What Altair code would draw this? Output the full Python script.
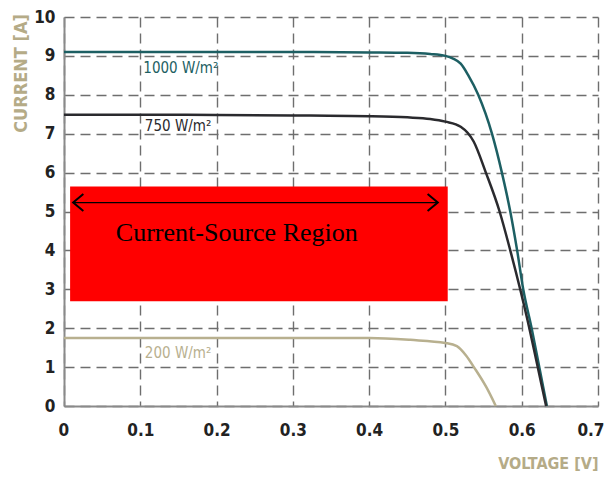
import altair as alt
import pandas as pd

# ---- data ----
v_1000 = [0.0, 0.1, 0.2, 0.3, 0.4, 0.45, 0.48, 0.5, 0.51, 0.52, 0.53, 0.543, 0.561, 0.574, 0.585, 0.594, 0.602, 0.613, 0.623, 0.633]
i_1000 = [9.10, 9.10, 9.10, 9.10, 9.09, 9.08, 9.05, 9.0, 8.93, 8.80, 8.50, 8.0, 7.0, 6.0, 5.0, 4.0, 3.0, 2.0, 1.0, 0.0]

v_750 = [0.0, 0.1, 0.2, 0.3, 0.4, 0.45, 0.48, 0.5, 0.52, 0.537, 0.553, 0.571, 0.585, 0.598, 0.610, 0.621, 0.632]
i_750 = [7.49, 7.49, 7.48, 7.47, 7.45, 7.42, 7.38, 7.31, 7.18, 6.8, 6.0, 5.0, 4.0, 3.0, 2.0, 1.0, 0.0]

v_200 = [0.0, 0.1, 0.2, 0.3, 0.4, 0.454, 0.5, 0.515, 0.527, 0.538, 0.554, 0.566]
i_200 = [1.75, 1.75, 1.75, 1.75, 1.75, 1.70, 1.62, 1.54, 1.30, 0.98, 0.47, 0.0]

series_names = ["1000 W/m²", "750 W/m²", "200 W/m²"]
series_colors = ["#1d5f63", "#2a2a2e", "#b8b08f"]

label_v = [0.104, 0.106, 0.106]
label_i = [8.69, 7.19, 1.36]

region_box = {"x": [0.008], "x2": [0.503], "y": [5.64], "y2": [2.69]}
arrow_y = 5.23
arrow_left = 0.012
arrow_right = 0.490
region_text = "Current-Source Region"
region_text_v = 0.068
region_text_i = 4.24

x_ticks = [0, 0.1, 0.2, 0.3, 0.4, 0.5, 0.6, 0.7]
y_ticks = [0, 1, 2, 3, 4, 5, 6, 7, 8, 9, 10]

# ---- tables ----
rows = []
for name, vs, is_ in zip(series_names, [v_1000, v_750, v_200], [i_1000, i_750, i_200]):
    for v, i in zip(vs, is_):
        rows.append({"series": name, "V": v, "I": i})
curves = pd.DataFrame(rows)
labels = pd.DataFrame({"series": series_names, "V": label_v, "I": label_i})

xs = alt.Scale(domain=[0, 0.7], nice=False, zero=False)
ys = alt.Scale(domain=[0, 10], nice=False)
cs = alt.Scale(domain=series_names, range=series_colors)

NARROW = "Liberation Sans Narrow, DejaVu Sans Condensed, sans-serif"

x_axis = alt.Axis(
    values=x_ticks, format="~g", ticks=False, labelPadding=16,
    labelFlush=True, labelFlushOffset=6, labelOverlap=False,
    labelFont=NARROW, labelFontSize=17, labelFontWeight="bold", labelColor="#222222",
    title="VOLTAGE [V]", titleFont=NARROW, titleFontSize=16, titleFontWeight="bold",
    titleColor="#b5ab87", titleX=534, titleY=49, titleAlign="right", titleBaseline="top",
    grid=True, tickCount=8,
)
y_axis = alt.Axis(
    values=y_ticks, ticks=False, labelPadding=9, labelFlush=False, labelOverlap=False,
    labelFont=NARROW, labelFontSize=17, labelFontWeight="bold", labelColor="#222222",
    title="CURRENT [A]", titleFont=NARROW, titleFontSize=18, titleFontWeight="bold",
    titleColor="#b5ab87", titleX=-43, titleY=56, titleAngle=270, titleAlign="center",
    titleBaseline="middle", grid=True, tickCount=11,
)


def X(field):
    return alt.X(field, scale=xs, axis=x_axis)


def Y(field):
    return alt.Y(field, scale=ys, axis=y_axis)


box = alt.Chart(pd.DataFrame(region_box)).mark_rect(color="#ff0000").encode(
    x=X("x:Q"), x2="x2:Q", y=Y("y:Q"), y2="y2:Q",
)

shaft = alt.Chart(pd.DataFrame({"a": [arrow_left], "b": [arrow_right], "y": [arrow_y]})).mark_rule(
    color="black", strokeWidth=1.3
).encode(x=X("a:Q"), x2="b:Q", y=Y("y:Q"))

head_left = alt.Chart(pd.DataFrame({"x": [arrow_left], "y": [arrow_y]})).mark_point(
    shape="M 1.2 -1 L 0 0 L 1.2 1", size=289, filled=False, stroke="black", strokeWidth=2, opacity=1
).encode(x=X("x:Q"), y=Y("y:Q"))

head_right = alt.Chart(pd.DataFrame({"x": [arrow_right], "y": [arrow_y]})).mark_point(
    shape="M -1.2 -1 L 0 0 L -1.2 1", size=289, filled=False, stroke="black", strokeWidth=2, opacity=1
).encode(x=X("x:Q"), y=Y("y:Q"))

region_label = alt.Chart(pd.DataFrame({"x": [region_text_v], "y": [region_text_i], "t": [region_text]})).mark_text(
    align="left", baseline="alphabetic", font="Liberation Serif, Times New Roman, serif", fontSize=26, color="black"
).encode(x=X("x:Q"), y=Y("y:Q"), text="t:N")

lines = alt.Chart(curves).mark_line(strokeWidth=2.5, interpolate="monotone").encode(
    x=X("V:Q"), y=Y("I:Q"),
    color=alt.Color("series:N", scale=cs, legend=None),
    detail="series:N",
)

curve_labels = alt.Chart(labels).mark_text(
    align="left", baseline="middle", font=NARROW, fontSize=15
).encode(
    x=X("V:Q"), y=Y("I:Q"),
    text="series:N",
    color=alt.Color("series:N", scale=cs, legend=None),
)

chart = alt.layer(
    box, shaft, head_left, head_right, region_label, lines, curve_labels
).properties(
    width=534, height=389,
    autosize=alt.AutoSizeParams(type="none"),
    padding={"left": 56, "top": 9, "right": 7, "bottom": 67},
).configure_view(stroke=None).configure_axis(
    gridColor="#6e6e6e", gridDash=[10, 6], gridWidth=1.4, gridOpacity=1,
    domainColor="#8a8a8a", domainWidth=2,
)

chart.save("out.html", embed_options={"renderer": "svg", "actions": False})
